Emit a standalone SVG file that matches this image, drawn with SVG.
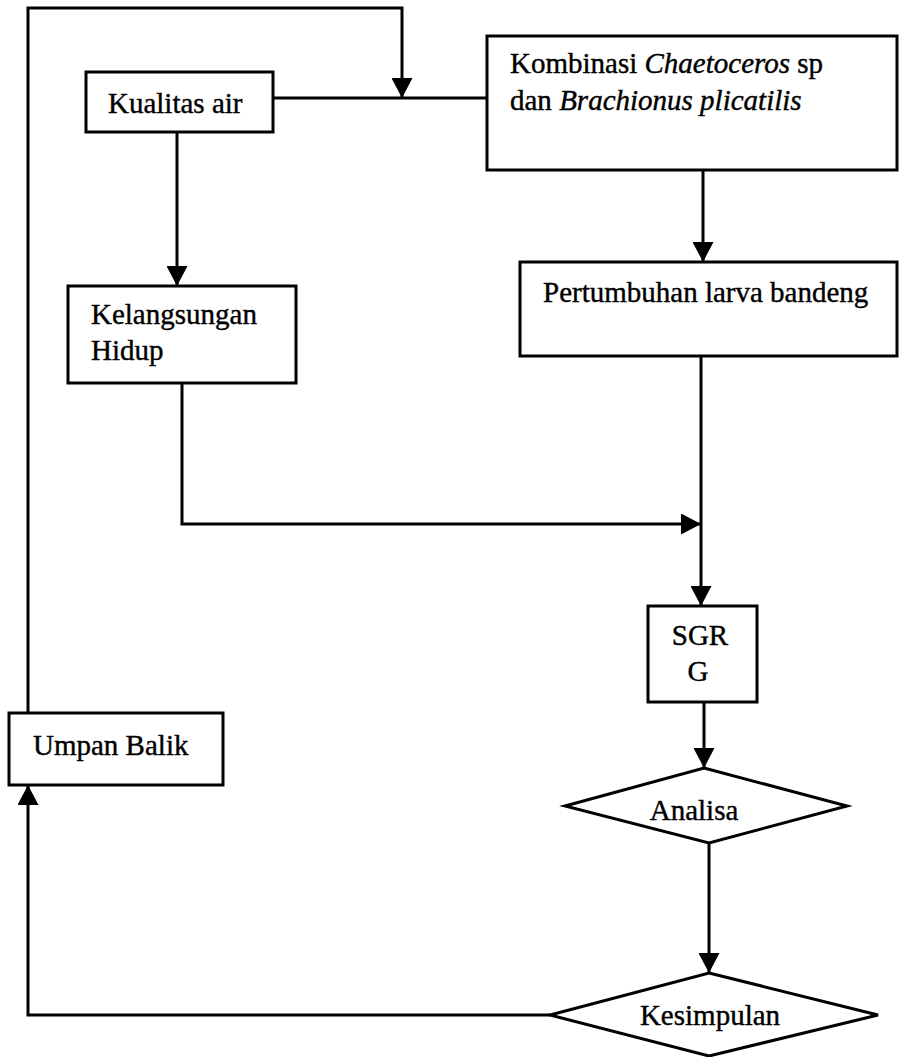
<svg xmlns="http://www.w3.org/2000/svg" width="899" height="1057" viewBox="0 0 899 1057">
<style>
.box{fill:#fff;stroke:#000;stroke-width:3}
.ln{fill:none;stroke:#000;stroke-width:3}
text{font-family:"Liberation Serif","Times New Roman",serif;font-size:29px;fill:#000;stroke:#000;stroke-width:0.4}
.it{font-style:italic}
</style>
<defs>
<marker id="arr" markerUnits="userSpaceOnUse" markerWidth="20" markerHeight="21" viewBox="0 0 20 21" refX="20" refY="10.5" orient="auto">
<path d="M0,0 L20,10.5 L0,21 Z" fill="#000"/>
</marker>
</defs>
<rect width="899" height="1057" fill="#fff"/>
<g id="connectors">
<polyline class="ln" points="28,713 28,8 402,8 402,98" marker-end="url(#arr)"/>
<line class="ln" x1="273" y1="98" x2="487" y2="98"/>
<line class="ln" x1="177" y1="132" x2="177" y2="286" marker-end="url(#arr)"/>
<line class="ln" x1="703" y1="170" x2="703" y2="262" marker-end="url(#arr)"/>
<polyline class="ln" points="182,383 182,524 701,524" marker-end="url(#arr)"/>
<line class="ln" x1="701" y1="356" x2="701" y2="606" marker-end="url(#arr)"/>
<line class="ln" x1="704" y1="702" x2="704" y2="768" marker-end="url(#arr)"/>
<line class="ln" x1="709" y1="843" x2="709" y2="973" marker-end="url(#arr)"/>
<polyline class="ln" points="550,1015 28,1015 28,785" marker-end="url(#arr)"/>
</g>
<g id="kualitas">
<rect class="box" x="86" y="72" width="187" height="60"/>
<text x="108" y="113">Kualitas air</text>
</g>
<g id="kombinasi">
<rect class="box" x="487" y="36" width="410" height="134"/>
<text x="510" y="73">Kombinasi <tspan class="it">Chaetoceros</tspan> sp</text>
<text x="510" y="110">dan <tspan class="it">Brachionus plicatilis</tspan></text>
</g>
<g id="kelangsungan">
<rect class="box" x="68" y="286" width="228" height="97"/>
<text x="91" y="324">Kelangsungan</text>
<text x="91" y="360">Hidup</text>
</g>
<g id="pertumbuhan">
<rect class="box" x="520" y="262" width="377" height="94"/>
<text x="543" y="302">Pertumbuhan larva bandeng</text>
</g>
<g id="sgr">
<rect class="box" x="648" y="606" width="109" height="96"/>
<text x="700" y="645" text-anchor="middle">SGR</text>
<text x="698" y="681" text-anchor="middle">G</text>
</g>
<g id="analisa">
<polygon class="box" points="704,768 847,806 709,843 565,806"/>
<text x="694" y="820" text-anchor="middle">Analisa</text>
</g>
<g id="kesimpulan">
<polygon class="box" points="709,973 878,1015 709,1056 550,1015"/>
<text x="710" y="1025" text-anchor="middle">Kesimpulan</text>
</g>
<g id="umpan">
<rect class="box" x="9" y="713" width="214" height="72"/>
<text x="33" y="755">Umpan Balik</text>
</g>
</svg>
